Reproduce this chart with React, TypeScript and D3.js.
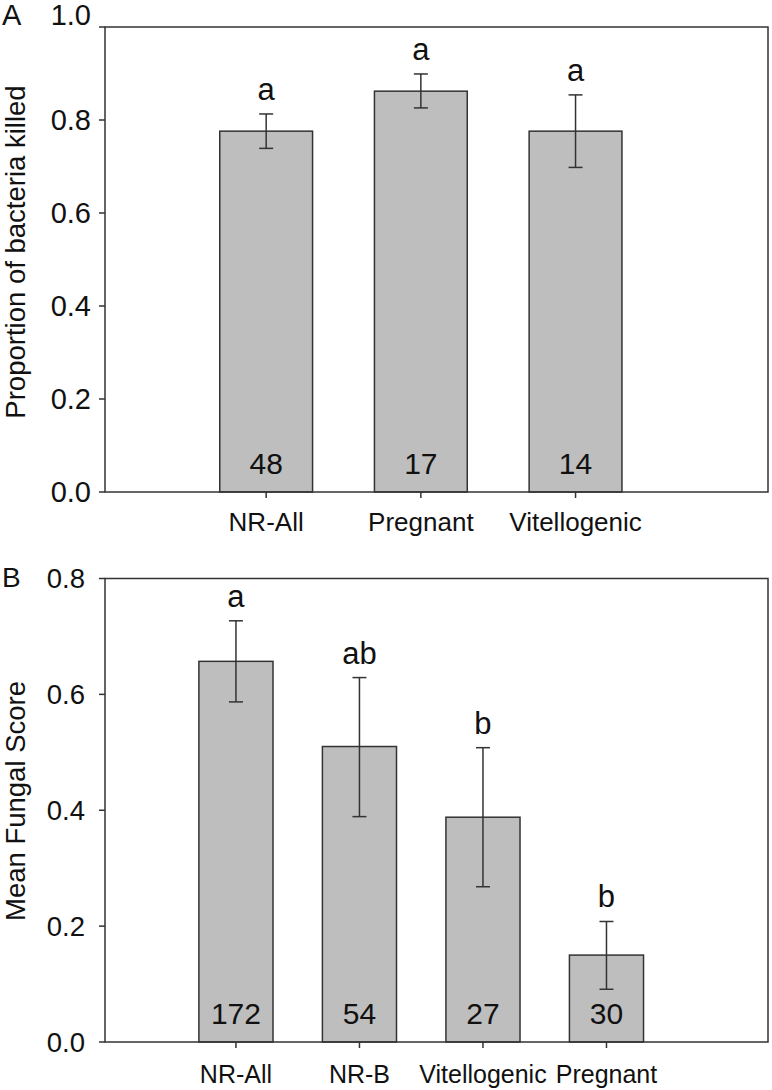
import React from 'react';
import * as d3 from 'd3';

const catsA = ['NR-All', 'Pregnant', 'Vitellogenic'];
const meansA = [0.776, 0.862, 0.776];
const errHiA = [0.813, 0.899, 0.854];
const errLoA = [0.739, 0.826, 0.698];
const lettersA = ['a', 'a', 'a'];
const nA = ['48', '17', '14'];
const ticksA = [0, 0.2, 0.4, 0.6, 0.8, 1.0];

const catsB = ['NR-All', 'NR-B', 'Vitellogenic', 'Pregnant'];
const meansB = [0.657, 0.51, 0.388, 0.15];
const errHiB = [0.727, 0.629, 0.508, 0.208];
const errLoB = [0.587, 0.389, 0.268, 0.091];
const lettersB = ['a', 'ab', 'b', 'b'];
const nB = ['172', '54', '27', '30'];
const ticksB = [0, 0.2, 0.4, 0.6, 0.8];

const FONT = '"Liberation Sans", Arial, Helvetica, sans-serif';
const STROKE = '#333';

type PanelProps = {
  cats: string[]; means: number[]; hi: number[]; lo: number[]; letters: string[]; ns: string[];
  ticks: number[]; yMax: number; top: number; bottom: number; left: number; right: number;
  padOuter: number; align: number; tickFs: number; tickGap: number; xFs: number; numFs: number;
  titleFs: number; labelFs: number; title: string; titleY: number; label: string;
  labelY: number; nY: number; xLabelY: number; topTickShift: number;
};

function Panel(p: PanelProps) {
  const x = d3.scaleBand<string>().domain(p.cats).range([p.left, p.right])
    .paddingInner(0.4).paddingOuter(p.padOuter).align(p.align);
  const y = d3.scaleLinear().domain([0, p.yMax]).range([p.bottom, p.top]);
  const bw = x.bandwidth();
  const cap = 7;
  return (
    <g fontFamily={FONT} fill="#111">
      {p.cats.map((c, i) => {
        const cx = (x(c) as number) + bw / 2;
        return (
          <g key={c}>
            <rect x={x(c)} y={y(p.means[i])} width={bw} height={p.bottom - y(p.means[i])}
              fill="#bebebe" stroke={STROKE} strokeWidth={1.5} />
            <line x1={cx} x2={cx} y1={y(p.hi[i])} y2={y(p.lo[i])} stroke={STROKE} strokeWidth={1.5} />
            <line x1={cx - cap} x2={cx + cap} y1={y(p.hi[i])} y2={y(p.hi[i])} stroke={STROKE} strokeWidth={1.5} />
            <line x1={cx - cap} x2={cx + cap} y1={y(p.lo[i])} y2={y(p.lo[i])} stroke={STROKE} strokeWidth={1.5} />
            <text x={cx} y={y(p.hi[i]) - 14} textAnchor="middle" fontSize={p.numFs + 1}>{p.letters[i]}</text>
            <text x={cx} y={p.nY} textAnchor="middle" fontSize={p.numFs}>{p.ns[i]}</text>
            <line x1={cx} x2={cx} y1={p.bottom} y2={p.bottom + 6} stroke={STROKE} strokeWidth={1.5} />
            <text x={cx} y={p.xLabelY} textAnchor="middle" fontSize={p.xFs}>{c}</text>
          </g>
        );
      })}
      <rect x={p.left} y={p.top} width={p.right - p.left} height={p.bottom - p.top}
        fill="none" stroke={STROKE} strokeWidth={1.5} />
      {p.ticks.map((t, i) => (
        <g key={t}>
          <line x1={p.left - 6} x2={p.left} y1={y(t)} y2={y(t)} stroke={STROKE} strokeWidth={1.5} />
          <text x={p.left - p.tickGap} y={y(t) + (i === p.ticks.length - 1 ? p.topTickShift : 0)} dy="0.35em"
            textAnchor="end" fontSize={p.tickFs}>{d3.format('.1f')(t)}</text>
        </g>
      ))}
      <text transform={`translate(25,${p.titleY}) rotate(-90)`} textAnchor="middle" fontSize={p.titleFs}>{p.title}</text>
      <text x={2} y={p.labelY} fontSize={p.labelFs}>{p.label}</text>
    </g>
  );
}

export default function App() {
  return (
    <svg width={772} height={1090} style={{ position: 'absolute', left: 0, top: 0, background: '#fff' }}>
      <rect x={0} y={0} width={772} height={1090} fill="#fff" />
      <Panel cats={catsA} means={meansA} hi={errHiA} lo={errLoA} letters={lettersA} ns={nA}
        ticks={ticksA} yMax={1.0} top={27} bottom={492} left={105} right={768}
        padOuter={0.843} align={0.44} tickFs={29} tickGap={14} xFs={26} numFs={30} titleFs={27.5} labelFs={29}
        title="Proportion of bacteria killed" titleY={252}
        label="A" labelY={25} nY={474} xLabelY={531} topTickShift={-12} />
      <Panel cats={catsB} means={meansB} hi={errHiB} lo={errLoB} letters={lettersB} ns={nB}
        ticks={ticksB} yMax={0.8} top={578.5} bottom={1042} left={105} right={768}
        padOuter={0.884} align={0.43} tickFs={27.5} tickGap={20} xFs={25} numFs={30} titleFs={27.5} labelFs={28}
        title="Mean Fungal Score" titleY={801}
        label="B" labelY={587} nY={1024} xLabelY={1083} topTickShift={0} />
    </svg>
  );
}
